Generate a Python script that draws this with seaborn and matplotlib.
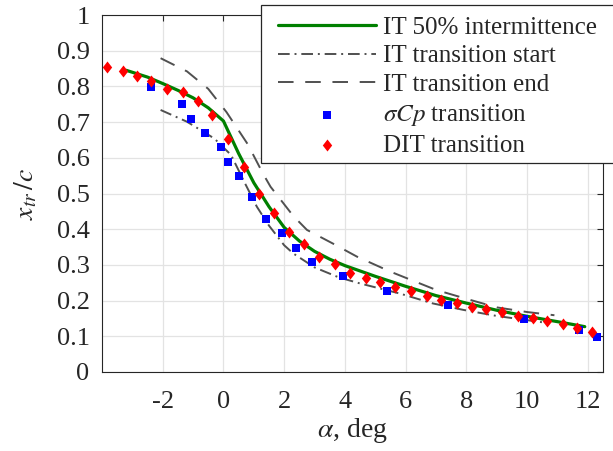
import numpy as np
import pandas as pd
import matplotlib
matplotlib.use("Agg")
import matplotlib.pyplot as plt
from matplotlib.patches import Rectangle
import seaborn as sns

# ---- data ----
alpha_it = [-3.2, -2.5, -2.0, -1.5, -1.0, -0.5, 0.0, 0.5, 1.0, 1.5, 2.0, 2.5,
            3.0, 3.5, 4.0, 5.0, 6.0, 7.0, 8.0, 9.0, 10.0, 11.0, 11.9]
it50 = [0.845, 0.826, 0.808, 0.789, 0.768, 0.740, 0.703, 0.612, 0.530, 0.463,
        0.405, 0.367, 0.338, 0.316, 0.298, 0.268, 0.240, 0.214, 0.193, 0.173,
        0.156, 0.141, 0.127]

alpha_start = [-2.07, -1.2, -0.3, 0.25, 0.7, 1.1, 1.5, 2.0, 2.3, 3.0, 3.8,
               4.5, 5.8, 6.9, 7.9, 9.0, 10.7]
it_start = [0.734, 0.701, 0.654, 0.608, 0.530, 0.463, 0.410, 0.355, 0.332,
            0.293, 0.265, 0.248, 0.220, 0.192, 0.174, 0.157, 0.137]

alpha_end = [-2.07, -1.2, -0.5, 0.1, 0.8, 1.3, 1.55, 2.3, 2.75, 3.6, 4.4,
             5.5, 6.0, 7.0, 8.0, 9.0, 10.0, 10.9]
it_end = [0.879, 0.842, 0.793, 0.728, 0.638, 0.556, 0.519, 0.437, 0.398,
          0.360, 0.323, 0.281, 0.264, 0.230, 0.205, 0.181, 0.168, 0.159]

alpha_scp = [-2.37, -1.38, -1.07, -0.61, -0.08, 0.16, 0.52, 0.93, 1.40, 1.93,
             2.40, 2.93, 3.93, 5.40, 7.41, 9.89, 11.72, 12.29]
scp = [0.799, 0.750, 0.710, 0.669, 0.630, 0.589, 0.549, 0.489, 0.429, 0.388,
       0.348, 0.308, 0.268, 0.228, 0.189, 0.148, 0.118, 0.098]

alpha_dit = [-3.84, -3.32, -2.85, -2.37, -1.85, -1.32, -0.85, -0.37, 0.16,
             0.67, 1.16, 1.68, 2.17, 2.64, 3.16, 3.69, 4.17, 4.70, 5.17, 5.65,
             6.18, 6.70, 7.18, 7.70, 8.19, 8.66, 9.18, 9.71, 10.19, 10.66,
             11.19, 11.66, 12.14]
dit = [0.855, 0.843, 0.829, 0.815, 0.794, 0.784, 0.760, 0.719, 0.654, 0.574,
       0.499, 0.444, 0.393, 0.358, 0.323, 0.302, 0.277, 0.264, 0.253, 0.238,
       0.227, 0.213, 0.203, 0.193, 0.183, 0.176, 0.167, 0.158, 0.152, 0.143,
       0.134, 0.122, 0.112]

xticks = [-2, 0, 2, 4, 6, 8, 10, 12]
yticks = [0, 0.1, 0.2, 0.3, 0.4, 0.5, 0.6, 0.7, 0.8, 0.9, 1]
ytick_labels = ["0", "0.1", "0.2", "0.3", "0.4", "0.5", "0.6", "0.7", "0.8", "0.9", "1"]
labels = ["IT 50% intermittence", "IT transition start", "IT transition end",
          r"$\sigma Cp$ transition", "DIT transition"]

# ---- style ----
sns.set_theme(style="whitegrid")
plt.rcParams.update({
    "font.family": ["Liberation Serif", "DejaVu Serif"],
    "mathtext.fontset": "stix",
    "axes.unicode_minus": False,
    "axes.edgecolor": "#262626",
    "axes.linewidth": 0.8,
    "grid.color": "#e3e3e3",
    "grid.linewidth": 0.9,
    "xtick.color": "#262626",
    "ytick.color": "#262626",
    "text.color": "#262626",
})

W, H = 613, 451
fig = plt.figure(figsize=(W / 100, H / 100), dpi=100)
ax = fig.add_axes([102 / W, 1 - 372 / H, 501 / W, 357 / H])

gray = "#505050"
sns.lineplot(x=alpha_it, y=it50, ax=ax, color="#008000", linewidth=2.3,
             sort=False, estimator=None, label=labels[0], zorder=3)
sns.lineplot(x=alpha_start, y=it_start, ax=ax, color=gray, linewidth=1.4,
             linestyle=(0, (6, 2.5, 1, 2.5)), sort=False, estimator=None,
             label=labels[1], zorder=2)
sns.lineplot(x=alpha_end, y=it_end, ax=ax, color=gray, linewidth=1.4,
             linestyle=(0, (8, 6)), sort=False, estimator=None,
             label=labels[2], zorder=2)
sns.scatterplot(x=alpha_scp, y=scp, ax=ax, marker="s", s=30, color="#0000ff",
                linewidth=0, label=labels[3], zorder=4)
diamond = [(0, 1), (0.78, 0), (0, -1), (-0.78, 0), (0, 1)]
sns.scatterplot(x=alpha_dit, y=dit, ax=ax, marker=diamond, s=75, color="#ff0000",
                linewidth=0, label=labels[4], zorder=5)

ax.set_xlim(-4, 12.5)
ax.set_ylim(0, 1)
ax.set_xticks(xticks)
ax.set_xticklabels([str(t) for t in xticks])
ax.set_yticks(yticks)
ax.set_yticklabels(ytick_labels)
for s in ax.spines.values():
    s.set_visible(True)
    s.set_color("#262626")
ax.tick_params(axis="both", which="both", direction="in", length=4, width=0.8,
               top=True, right=True, labelsize=19)
ax.tick_params(axis="x", pad=14)
ax.tick_params(axis="y", pad=9)
ax.set_xlabel(r"$\alpha$, deg", fontsize=20, labelpad=2)
ax.set_ylabel(r"$x_{tr}\,/c$", fontsize=20, labelpad=12)

handles, labs = ax.get_legend_handles_labels()
ax.get_legend().remove()

# legend frame (MATLAB-like box, partly outside the figure on the right)
frame = Rectangle((260.5 / W, 1 - 163 / H), 400 / W, 158 / H,
                  transform=fig.transFigure, facecolor="white",
                  edgecolor="#262626", linewidth=0.9, zorder=4)
fig.add_artist(frame)
leg = fig.legend(handles, labs, loc="upper left",
                 bbox_to_anchor=(278 / W, 1 - 16 / H),
                 bbox_transform=fig.transFigure, borderaxespad=0,
                 fontsize=18, handlelength=3.92, handletextpad=0.28,
                 labelspacing=0.25, borderpad=0, frameon=False,
                 scatterpoints=1)
leg.set_zorder(5)

fig.savefig("out.png", dpi=100)
